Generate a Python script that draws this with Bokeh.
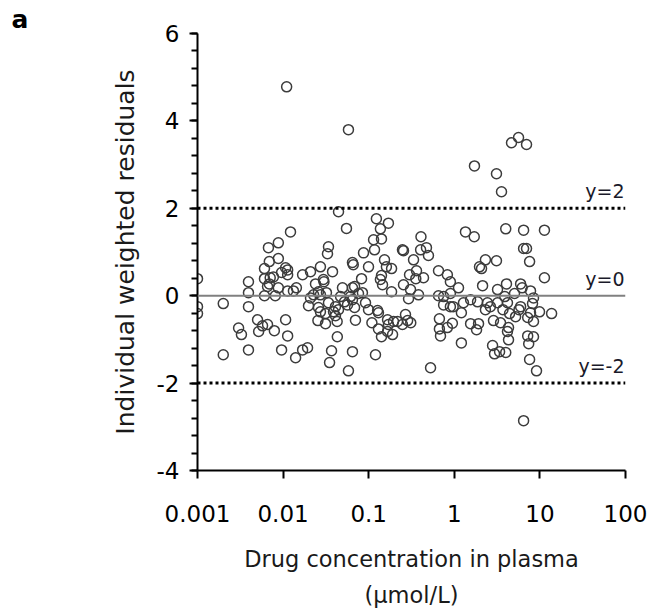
from bokeh.plotting import figure
from bokeh.models import Span, Label, FixedTicker, ColumnDataSource, Range1d
from bokeh.embed import file_html
from bokeh.resources import INLINE

conc = [
    0.001, 0.001, 0.001, 0.0020, 0.0020, 0.00302, 0.00326, 0.00394, 0.00394, 0.00394,
    0.00394, 0.00503, 0.00518, 0.00575, 0.00658, 0.00606, 0.00606, 0.00606, 0.00674, 0.0069,
    0.0069, 0.00707, 0.00658, 0.0077, 0.0079, 0.0081, 0.0088, 0.0088, 0.0088, 0.0096,
    0.0096, 0.0107, 0.0113, 0.0113, 0.0107, 0.0113, 0.0113, 0.0122, 0.0110, 0.0132,
    0.0143, 0.0140, 0.0169, 0.0169,
    0.0444, 0.055, 0.058, 0.123, 0.170, 0.137, 0.114, 0.141, 0.0339, 0.033,
    0.087, 0.117, 0.248, 0.153, 0.161, 0.185, 0.0646, 0.066, 0.0995, 0.0273,
    0.0209, 0.0378, 0.141, 0.137, 0.145, 0.0825, 0.0296, 0.030, 0.0239, 0.0494,
    0.0646, 0.0684, 0.185, 0.0845, 0.076, 0.0259, 0.0321, 0.0227, 0.0209, 0.0273,
    0.0469, 0.0613, 0.0646, 0.0522, 0.0339, 0.0198, 0.0259, 0.0409, 0.0444, 0.0565,
    0.0684, 0.0918, 0.0995, 0.127, 0.130, 0.0388, 0.0409, 0.0313, 0.0273, 0.0255,
    0.0313, 0.0428, 0.070, 0.109, 0.166, 0.195, 0.217, 0.269, 0.248, 0.130,
    0.141, 0.166, 0.190, 0.170, 0.043, 0.0193, 0.0368, 0.0349, 0.0646, 0.120,
    0.058,
    1.72, 3.11, 3.56, 3.99, 1.35, 1.71, 0.408, 0.404, 0.473, 0.499,
    0.255, 0.334, 2.31, 3.11, 1.97, 2.08, 0.362, 0.300, 0.355, 0.437,
    0.654, 0.83, 0.90, 1.12, 2.14, 0.255, 0.308, 0.382, 0.292, 0.654,
    0.75, 0.90, 1.28, 1.55, 1.87, 3.20, 4.07, 3.89, 3.20, 2.44,
    2.64, 2.31, 0.75, 0.90, 0.97, 1.21, 3.70, 0.285, 0.31, 0.67,
    0.95, 1.55, 1.92, 2.87, 3.47, 4.42, 0.67, 0.69, 0.83, 1.82,
    4.18, 4.30, 1.21, 2.80, 2.95, 3.38, 3.99, 0.528,
    4.66, 5.63, 6.98, 6.45, 11.3, 6.45, 6.98, 7.58, 11.3, 5.95,
    6.2, 7.77, 5.05, 8.42, 8.2, 4.18, 5.95, 5.7, 7.77, 9.9,
    13.7, 5.2, 7.2, 8.42, 4.3, 7.2, 8.42, 7.4, 7.58, 9.13,
    6.45,
]

residual = [
    0.39, -0.25, -0.41, -0.18, -1.35, -0.74, -0.89, 0.32, 0.07, -0.25,
    -1.24, -0.55, -0.82, -0.69, -0.66, 0.62, 0.39, 0.00, 1.10, 0.78,
    0.27, 0.41, 0.21, 0.43, -0.80, 0.00, 1.21, 0.85, 0.18, 0.53,
    -1.24, 0.64, 0.59, 0.48, -0.55, 0.11, -0.92, 1.46, 4.78, 0.11,
    0.18, -1.42, 0.48, -1.24,
    1.92, 1.54, 3.80, 1.76, 1.66, 1.53, 1.28, 1.30, 1.12, 0.96,
    0.98, 1.05, 1.05, 0.82, 0.66, 0.62, 0.76, 0.71, 0.66, 0.66,
    0.55, 0.55, 0.46, 0.37, 0.25, 0.39, 0.37, 0.32, 0.27, 0.18,
    0.18, 0.21, 0.09, 0.07, 0.05, 0.09, 0.07, 0.02, -0.05, 0.02,
    -0.02, -0.02, -0.09, -0.14, -0.16, -0.23, -0.27, -0.25, -0.32, -0.21,
    -0.27, -0.16, -0.32, -0.34, -0.39, -0.37, -0.46, -0.41, -0.37, -0.57,
    -0.64, -0.59, -0.56, -0.62, -0.55, -0.59, -0.59, -0.43, -0.66, -0.76,
    -0.94, -0.82, -0.89, -0.66, -0.94, -1.19, -1.26, -1.53, -1.28, -1.35,
    -1.72,
    2.97, 2.79, 2.38, 1.53, 1.46, 1.35, 1.35, 1.05, 1.10, 0.92,
    1.03, 0.82, 0.82, 0.80, 0.66, 0.62, 0.57, 0.48, 0.39, 0.41,
    0.57, 0.48, 0.32, 0.18, 0.23, 0.25, 0.14, 0.02, -0.07, 0.00,
    -0.02, 0.05, -0.16, -0.09, -0.14, 0.14, 0.27, -0.02, -0.16, -0.16,
    -0.25, -0.32, -0.21, -0.25, -0.25, -0.39, -0.32, -0.57, -0.62, -0.53,
    -0.63, -0.64, -0.64, -0.57, -0.62, -0.41, -0.76, -0.92, -0.73, -0.78,
    -0.82, -1.01, -1.08, -1.14, -1.33, -1.28, -1.30, -1.65,
    3.50, 3.62, 3.46, 1.50, 1.50, 1.08, 1.08, 0.78, 0.41, 0.27,
    0.18, 0.11, 0.05, -0.05, -0.18, -0.16, -0.25, -0.32, -0.39, -0.37,
    -0.41, -0.48, -0.50, -0.59, -0.73, -0.92, -0.94, -1.10, -1.46, -1.72,
    -2.86,
]

x_ticks = [0.001, 0.01, 0.1, 1, 10, 100]
x_tick_labels = ["0.001", "0.01", "0.1", "1", "10", "100"]
y_ticks = [-4, -2, 0, 2, 4, 6]
y_tick_labels = ["-4", "-2", "0", "2", "4", "6"]
ref_levels = [2, 0, -2]
ref_labels = ["y=2", "y=0", "y=-2"]
x_title = "Drug concentration in plasma\n(µmol/L)"
y_title = "Individual weighted residuals"
panel_letter = "a"

FONT = "DejaVu Sans"
X_MIN, X_MAX, Y_MIN, Y_MAX = 0.001, 100, -4, 6

p = figure(
    width=652, height=611,
    x_axis_type="log",
    x_range=Range1d(X_MIN, X_MAX), y_range=Range1d(Y_MIN, Y_MAX),
    output_backend="svg", toolbar_location=None,
    min_border_left=197, min_border_right=27, min_border_top=33, min_border_bottom=141,
)
p.outline_line_color = None
p.xgrid.visible = False
p.ygrid.visible = False
p.background_fill_color = "white"
p.border_fill_color = "white"

# panel letter as a left-shifted title
p.title.text = panel_letter
p.title.text_font = FONT
p.title.text_font_size = "25px"
p.title.text_font_style = "bold"
p.title.text_color = "#000000"
p.title.text_line_height = 1.0
p.title.standoff = 0
p.title.align = "left"
p.title.offset = -186

src = ColumnDataSource(dict(x=conc, y=residual))

for lvl in ref_levels:
    if lvl == 0:
        p.add_layout(Span(location=lvl, dimension="width", line_color="#808080", line_width=2))
    else:
        p.add_layout(Span(location=lvl, dimension="width", line_color="#000000", line_width=3, line_dash="3 3"))

p.scatter("x", "y", source=src, marker="circle", size=10, fill_alpha=0,
          line_color="#3c3c3c", line_width=1.5)

for lvl, txt in zip(ref_levels, ref_labels):
    p.add_layout(Label(x=X_MAX, y=lvl, text=txt, text_align="right", text_baseline="bottom",
                       x_offset=-1, y_offset=6, text_font=FONT, text_font_size="19px",
                       text_color="#1a1a2a"))

p.xaxis.ticker = FixedTicker(ticks=x_ticks, minor_ticks=[])
p.xaxis.major_label_overrides = {t: l for t, l in zip(x_ticks, x_tick_labels)}
p.yaxis.ticker = FixedTicker(ticks=y_ticks, minor_ticks=[Y_MIN + 0.4 * i for i in range(26)])
p.yaxis.major_label_overrides = {t: l for t, l in zip(y_ticks, y_tick_labels)}

for ax in (p.xaxis, p.yaxis):
    ax.axis_line_width = 2
    ax.axis_line_color = "#000000"
    ax.major_tick_line_color = "#000000"
    ax.major_tick_line_width = 2
    ax.major_tick_out = 8
    ax.major_tick_in = 0
    ax.minor_tick_line_color = "#000000"
    ax.minor_tick_line_width = 2
    ax.minor_tick_out = 6
    ax.minor_tick_in = 0
    ax.major_label_text_font = FONT
    ax.major_label_text_font_size = "23px"
    ax.major_label_text_color = "#000000"
    ax.axis_label_text_font = FONT
    ax.axis_label_text_font_style = "normal"
    ax.axis_label_text_color = "#1a1a1a"

p.yaxis.axis_label = y_title
p.yaxis.axis_label_text_font_size = "25px"
p.yaxis.major_label_standoff = 10
p.yaxis.axis_label_standoff = 14

p.xaxis.axis_label = x_title
p.xaxis.axis_label_text_font_size = "22.5px"
p.xaxis.axis_label_text_line_height = 1.42
p.xaxis.major_label_standoff = 26
p.xaxis.axis_label_standoff = 21

open("out.html", "w").write(file_html(p, INLINE))
